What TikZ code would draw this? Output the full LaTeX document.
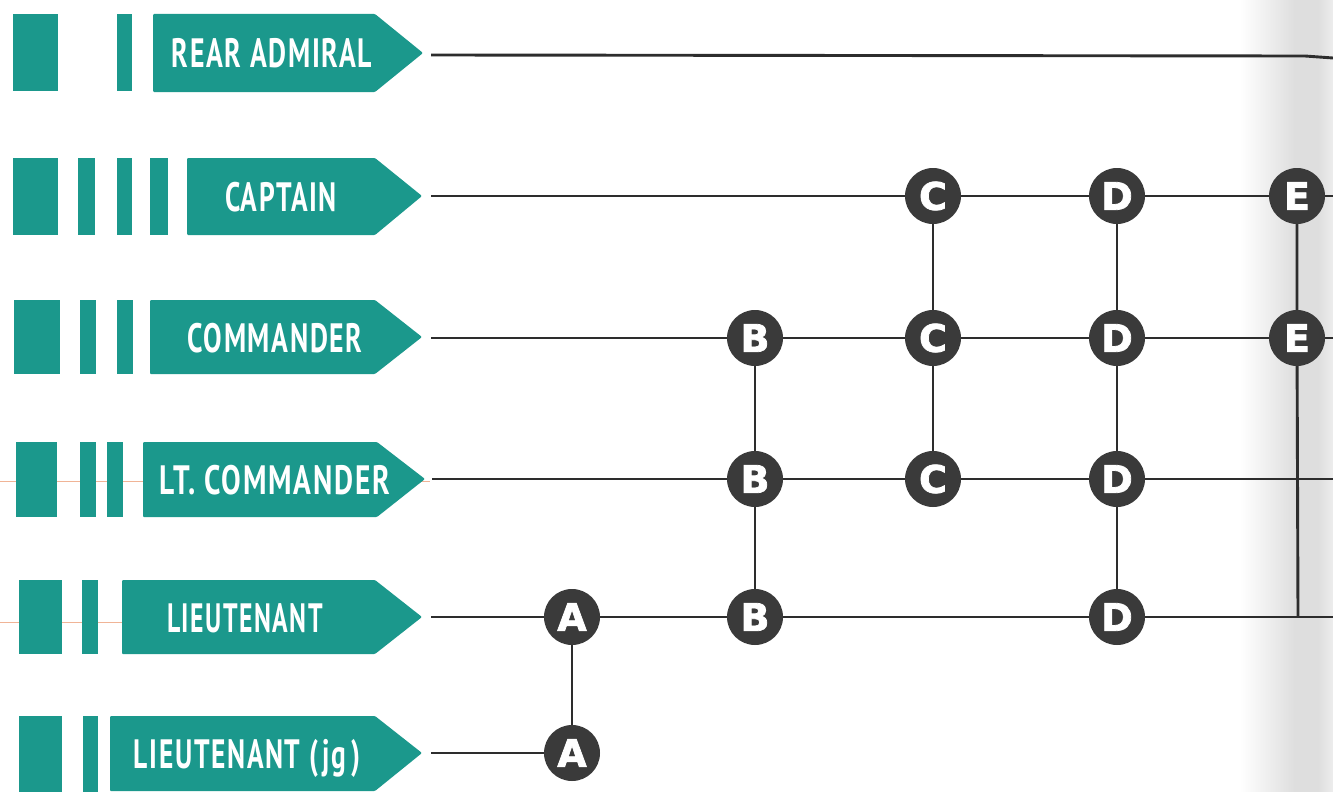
\documentclass[tikz,border=0pt]{standalone}
\usepackage{fontspec}
\usepackage{graphicx}
\newfontfamily\rankfont[LetterSpace=6]{PT Sans}
\newfontfamily\circfont[FakeBold=2]{DejaVu Sans}
\definecolor{navyteal}{RGB}{27,152,140}
\definecolor{circgray}{RGB}{58,58,58}
\definecolor{linegray}{RGB}{45,45,45}
\definecolor{scanorange}{RGB}{240,180,150}
\newcommand{\fitw}[2]{\resizebox{#1}{\height}{#2}}
\tikzset{
  stripe/.style={fill=navyteal, draw=none},
  rankbox/.style={fill=navyteal, draw=none, rounded corners=1pt},
  ranktext/.style={anchor=base, inner sep=0pt, text=white,
     font=\rankfont\bfseries\fontsize{41}{41}\selectfont},
  grade/.style={circle, fill=circgray, draw=none, minimum size=56pt, inner sep=0pt,
     text=white, font=\circfont\bfseries\fontsize{38}{38}\selectfont},
  wire/.style={draw=linegray, line width=2.9pt},
}
\begin{document}
\begin{tikzpicture}[x=1pt,y=-1pt]
\useasboundingbox (0,0) rectangle (1333,792);
\fill[white] (0,0) rectangle (1333,792);
% page fold shading at the right edge
\shade[left color=white, right color=black!13, draw=none] (1240,0) rectangle (1295,792);
\fill[black!13] (1295,0) rectangle (1333,792);
\shade[left color=black!13, right color=black!7, draw=none] (1318,0) rectangle (1333,792);
% faint scan marks
\draw[scanorange, line width=0.9pt] (0,481) -- (430,481);
\draw[scanorange, line width=0.9pt] (0,622) -- (125,622);

% ---------- rank labels: stripes + arrow boxes ----------
% Rear Admiral (row y=53)
\fill[stripe] (13,14) rectangle (58,91);
\fill[stripe] (117,14) rectangle (132,91);
\fill[rankbox] (153,14) -- (375,14) -- (423,53) -- (375,92) -- (153,92) -- cycle;
\node[ranktext] (tRA) at (272,67.5) {\fitw{200pt}{REAR ADMIRAL}};
\coordinate (sRA) at (431,55);
\coordinate (eRA) at (1333,58);

% Captain (row y=196)
\fill[stripe] (13,158) rectangle (58,235);
\fill[stripe] (78,158) rectangle (95,235);
\fill[stripe] (117,158) rectangle (132,235);
\fill[stripe] (150,158) rectangle (168,235);
\fill[rankbox] (187,158) -- (375,158) -- (422,196) -- (375,235) -- (187,235) -- cycle;
\node[ranktext] (tCAPT) at (281,211.5) {\fitw{112pt}{CAPTAIN}};
\coordinate (sCAPT) at (431,196);
\coordinate (eCAPT) at (1333,196);

% Commander (row y=337)
\fill[stripe] (14,300) rectangle (60,374);
\fill[stripe] (80,300) rectangle (96,374);
\fill[stripe] (117,300) rectangle (133,374);
\fill[rankbox] (150,300) -- (375,300) -- (422,337) -- (375,374) -- (150,374) -- cycle;
\node[ranktext] (tCDR) at (275,352) {\fitw{175pt}{COMMANDER}};
\coordinate (sCDR) at (431,338);
\coordinate (eCDR) at (1333,338);

% Lt. Commander (row y=479)
\fill[stripe] (16,442) rectangle (57,517);
\fill[stripe] (80,442) rectangle (96,517);
\fill[stripe] (107,442) rectangle (123,517);
\fill[rankbox] (143,442) -- (377,442) -- (425,479) -- (377,517) -- (143,517) -- cycle;
\node[ranktext] (tLCDR) at (275,494) {\fitw{230pt}{LT. COMMANDER}};
\coordinate (sLCDR) at (432,479);
\coordinate (eLCDR) at (1333,479);

% Lieutenant (row y=617)
\fill[stripe] (19,580) rectangle (62,654);
\fill[stripe] (82,580) rectangle (98,654);
\fill[rankbox] (122,580) -- (375,580) -- (422,617) -- (375,654) -- (122,654) -- cycle;
\node[ranktext] (tLT) at (245,632) {\fitw{156pt}{LIEUTENANT}};
\coordinate (sLT) at (431,617);
\coordinate (eLT) at (1333,617);

% Lieutenant (jg) (row y=753)
\fill[stripe] (19,716) rectangle (62,792);
\fill[stripe] (83,716) rectangle (98,792);
\fill[rankbox] (110,716) -- (375,716) -- (422,753) -- (375,791) -- (110,791) -- cycle;
\node[ranktext] (tLTJG) at (247,768) {\fitw{226pt}{LIEUTENANT (\,jg\,)}};
\coordinate (sLTJG) at (431,753);

% ---------- promotion points ----------
\node[grade] (A1) at (572,617) {A};
\node[grade] (A2) at (572,753) {A};
\node[grade] (B1) at (755,338) {B};
\node[grade] (B2) at (755,479) {B};
\node[grade] (B3) at (755,617) {B};
\node[grade] (C1) at (933,196) {C};
\node[grade] (C2) at (933,338) {C};
\node[grade] (C3) at (933,479) {C};
\node[grade] (D1) at (1117,196) {D};
\node[grade] (D2) at (1117,338) {D};
\node[grade] (D3) at (1117,479) {D};
\node[grade] (D4) at (1117,617) {D};
\node[grade] (E1) at (1297,196) {E};
\node[grade] (E2) at (1297,338) {E};
\coordinate (E3) at (1298,617);

% ---------- horizontal connectors ----------
\draw[wire] (sRA) -- (1305,56) -- (eRA);
\draw[wire] (sCAPT) -- (C1) -- (D1) -- (E1) -- (eCAPT);
\draw[wire] (sCDR) -- (B1) -- (C2) -- (D2) -- (E2) -- (eCDR);
\draw[wire] (sLCDR) -- (B2) -- (C3) -- (D3) -- (eLCDR);
\draw[wire] (sLT) -- (A1) -- (B3) -- (D4) -- (eLT);
\draw[wire] (sLTJG) -- (A2);

% ---------- vertical connectors ----------
\draw[wire] (A1) -- (A2);
\draw[wire] (B1) -- (B2) -- (B3);
\draw[wire] (C1) -- (C2) -- (C3);
\draw[wire] (D1) -- (D2) -- (D3) -- (D4);
\draw[wire] (E1) -- (E2) -- (E3);
\end{tikzpicture}
\end{document}
